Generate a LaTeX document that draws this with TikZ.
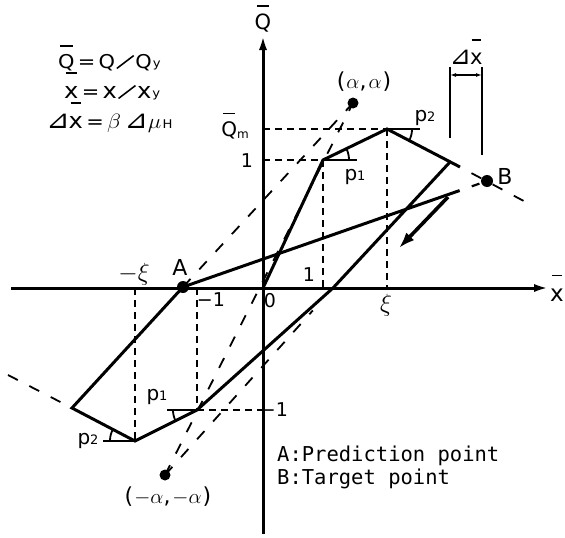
\documentclass[tikz,border=0pt]{standalone}
\usepackage{fontspec}
\setmainfont{DejaVu Sans}
\newfontfamily\monof{DejaVu Sans Mono}
\usetikzlibrary{arrows.meta,calc}
\newcommand\fs[1]{\fontsize{#1}{#1}\selectfont}
\newcommand\obar[1]{\setbox0\hbox{#1}\vbox{\hbox to \wd0{\hss\vrule width 0.75\wd0 height 1.5pt\hss}\kern 2.2pt\box0}}
\newcommand\sx[1]{\scalebox{1.1}[1]{#1}}
\newcommand\slsh{\raisebox{-1pt}{\rotatebox{40}{\rule{20pt}{1.5pt}}}}
\newcommand\tri{\scalebox{1.35}{⊿}}
\newcommand\angmark[4]{\draw[thinl] plot[domain=#3, samples=12, smooth] ({#1+#4*cos(\x)},{#2-#4*sin(\x)});}
\begin{document}
\begin{tikzpicture}[x=1pt,y=-1pt,
  curve/.style={line width=3pt},
  axisline/.style={line width=3pt,-{Latex[length=15pt,width=8pt]}},
  dshort/.style={line width=1.8pt,dash pattern=on 7pt off 5pt},
  dlong/.style={line width=1.8pt,dash pattern=on 11pt off 13pt},
  thinl/.style={line width=1.8pt},
  dot/.style={circle,fill=black,inner sep=0pt,minimum size=12pt},
  lbl/.style={inner sep=0pt,font=\fs{19}},
]
\useasboundingbox (0,0) rectangle (565,538);
\fill[white] (0,0) rectangle (565,538);

% key points
\coordinate (O) at (263,288);
\coordinate (P1) at (323,160);
\coordinate (Pm) at (387,129);
\coordinate (C1) at (450,162);
\coordinate (C1x) at (460,167);
\coordinate (X1) at (333,288);
\coordinate (N1) at (197,410);
\coordinate (Nm) at (135,441);
\coordinate (C2) at (72,408);
\coordinate (Xs) at (11,288);
\coordinate (Xe) at (549,288);
\coordinate (Ys) at (263,534);
\coordinate (Ye) at (263,35);
\coordinate (E1) at (535,207);
\coordinate (E2) at (8,375);
\coordinate (Ms) at (448,197);
\coordinate (Me) at (399,248);

\node[dot] (A) at (183,287) {};
\node[dot] (B) at (487,181) {};
\node[dot,minimum size=11pt] (Pa) at (353,103) {};
\node[dot,minimum size=11pt] (Na) at (165,475) {};

% short-dashed guides
\draw[dshort] (O |- P1) -- (P1);
\draw[dshort] (O |- Pm) -- (Pm);
\draw[dshort] (P1) -- (P1 |- O);
\draw[dshort] (Pm) -- (Pm |- O);
\draw[dshort] (Nm |- O) -- (Nm);
\draw[dshort] (N1 |- O) -- (N1);
\draw[dshort] (N1) -- (O |- N1);

% long-dashed guides
\draw[dlong] (Na.center) -- (Pa.center);
\draw[dlong] (A.center) -- (Pa.center);
\draw[dlong] (Na.center) -- ($(Na)!0.88!(X1)$);
\draw[dlong,dash phase=11pt] (C1x) -- (E1);
\draw[dlong,dash phase=11pt] (C2) -- (E2);

% hysteresis curve
\draw[curve] (O) -- (P1) -- (Pm) -- (C1x);
\draw[curve,line join=miter] (C1) -- (X1) -- (N1) -- (Nm) -- (C2) -- (A.center) -- ($(A)!0.91!(B)$);
\draw[line width=2.2pt] ($(A)!0.95!(B)$) -- ($(A)!0.975!(B)$);

% axes
\draw[axisline] (Xs) -- (Xe);
\draw[axisline] (Ys) -- (Ye);

% direction arrow
\draw[line width=3.6pt,-{Latex[length=16pt,width=11pt]}] (Ms) -- (Me);

% angle marks
\draw[thinl] (P1) -- ++(34,0);
\angmark{323}{160}{0:25.8}{26}
\draw[thinl] (Pm) -- ++(33,0);
\angmark{387}{129}{-27.6:0}{25}
\draw[thinl] (N1) -- ++(-30,0);
\angmark{197}{410}{180:206.6}{24}
\draw[thinl] (Nm) -- ++(-32,0);
\angmark{135}{441}{152.4:180}{25}

% delta x dimension
\coordinate (DL1) at (450,67);
\coordinate (DL2) at (450,138);
\coordinate (DR1) at (482,67);
\coordinate (DR2) at (482,155);
\draw[line width=2.4pt] (DL1) -- (DL2);
\draw[line width=2.4pt] (DR1) -- (DR2);
\coordinate (DA1) at (450,75);
\coordinate (DA2) at (482,75);
\draw[line width=1.3pt,{Latex[length=6pt,width=4pt]}-{Latex[length=6pt,width=4pt]}] (DA1) -- (DA2);
\node[inner sep=0pt,anchor=base] (dxl) at (466,64) {\fs{19}\tri\hspace{-1pt}{\fs{21}\obar{x}}};

% axis labels
\node[inner sep=0pt] (ql) at (263,19) {\fs{21}\obar{Q}};
\node[inner sep=0pt] (xl) at (557,288) {\fs{23}\obar{x}};

% formulas
\node[anchor=base west,inner sep=0pt] (f1) at (58,68) {\sx{\fs{19}\obar{Q}\hspace{3pt}=\hspace{3pt}Q\hspace{1pt}\slsh\hspace{1pt}Q\hspace{1pt}\raisebox{1pt}{\fs{12}y}}};
\node[anchor=base west,inner sep=0pt] (f2) at (64,98) {\sx{\fs{22}\obar{x}\hspace{3pt}{\fs{19}=}\hspace{3pt}x\hspace{1pt}\slsh\hspace{1pt}x\hspace{1pt}\raisebox{1pt}{\fs{12}y}}};
\node[anchor=base west,inner sep=0pt] (f3) at (46,128) {\sx{\fs{19}\tri\hspace{-1pt}{\fs{22}\obar{x}}\hspace{3pt}{\fs{19}=}\hspace{3pt}{\fs{22}$\beta$}\hspace{3pt}{\fs{19}\tri}\hspace{0pt}{\fs{22}$\mu$}\hspace{1pt}{\fs{12}H}}};

% point labels
\node[inner sep=0pt] (pal) at (364,82) {\fs{22}(\hspace{1pt}$\alpha$,\hspace{2pt}$\alpha$\hspace{1pt})};
\node[inner sep=0pt] (nal) at (168,497) {\fs{22}(\hspace{1pt}$-\alpha$,\hspace{2pt}$-\alpha$\hspace{1pt})};
\node[inner sep=0pt] (al) at (180,267) {\fs{22}A};
\node[inner sep=0pt] (bl) at (505,176) {\fs{22}B};

% axis numbers
\node[lbl] (qml) at (235,126) {\fs{20}\obar{Q}\raisebox{-2pt}{\fs{12}m}};
\node[lbl] (y1) at (247,161) {1};
\node[lbl] (x1) at (309,275) {1};
\node[lbl] (x0) at (270,301) {0};
\node[lbl] (xm1) at (211,300) {−1};
\node[lbl] (ym1) at (274,410) {−1};
\node[lbl] (xi) at (386,305) {\fs{23}$\xi$};
\node[lbl] (mxi) at (134,274) {\fs{23}$-\xi$};

% slope labels
\node[lbl] (p1u) at (355,177) {\fs{20}p\fs{13}1};
\node[lbl] (p2u) at (425,118) {\fs{20}p\fs{13}2};
\node[lbl] (p1l) at (157,397) {\fs{20}p\fs{13}1};
\node[lbl] (p2l) at (88,441) {\fs{20}p\fs{13}2};

% legend
\node[anchor=west,inner sep=0pt,font=\monof\fs{20.5}] (legA) at (277,456) {A:Prediction point};
\node[anchor=west,inner sep=0pt,font=\monof\fs{20.5}] (legB) at (277,479) {B:Target point};
\end{tikzpicture}
\end{document}
